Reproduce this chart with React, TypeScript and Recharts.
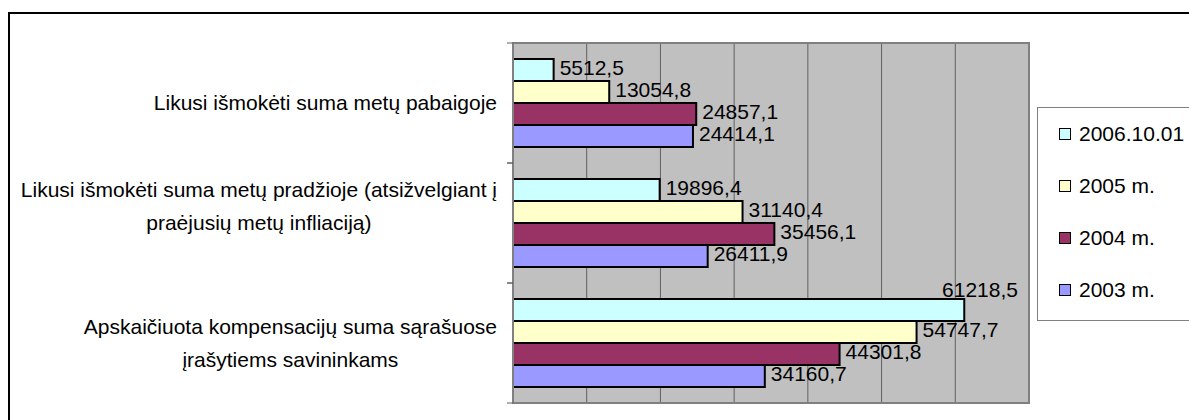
import React from "react"
import { BarChart, Bar, XAxis, YAxis, CartesianGrid, LabelList, ReferenceArea } from "recharts"

// categories, top to bottom
const categories = [
  "Likusi išmokėti suma metų pabaigoje",
  "Likusi išmokėti suma metų pradžioje (atsižvelgiant į praėjusių metų infliaciją)",
  "Apskaičiuota kompensacijų suma sąrašuose įrašytiems savininkams",
]
// how the category labels wrap in the original
const categoryLines = [
  ["Likusi išmokėti suma metų pabaigoje"],
  ["Likusi išmokėti suma metų pradžioje (atsižvelgiant į", "praėjusių metų infliaciją)", ""],
  ["Apskaičiuota kompensacijų suma sąrašuose", "įrašytiems savininkams"],
]

const seriesNames = ["2006.10.01", "2005 m.", "2004 m.", "2003 m."]
const seriesColors = ["#CCFFFF", "#FFFFCC", "#993366", "#9999FF"]
const values2006 = [5512.5, 19896.4, 61218.5]
const values2005 = [13054.8, 31140.4, 54747.7]
const values2004 = [24857.1, 35456.1, 44301.8]
const values2003 = [24414.1, 26411.9, 34160.7]
const xTicks = [0, 10000, 20000, 30000, 40000, 50000, 60000, 70000]

const data = categories.map((name, i) => ({
  name,
  s0: values2006[i],
  s1: values2005[i],
  s2: values2004[i],
  s3: values2003[i],
}))

const CHART_W = 1189
const CHART_H = 420
const MARGIN = { top: 43, right: 160, bottom: 0, left: 0 }
const PLOT_RIGHT = CHART_W - MARGIN.right
const FONT_FAMILY = "'Liberation Sans', Arial, sans-serif"
const FONT_SIZE = 21
const LINE_H = 33
const TICK_MARGIN = 16

let ctx: CanvasRenderingContext2D | null = null
const measure = (text: string) => {
  if (!ctx) ctx = document.createElement("canvas").getContext("2d")
  if (!ctx) return text.length * FONT_SIZE * 0.5
  ctx.font = `${FONT_SIZE}px ${FONT_FAMILY}`
  return ctx.measureText(text).width
}

const fmt = (v: number) => v.toFixed(1).replace(".", ",")

const renderValueLabel = (props: any) => {
  const { x, y, width, height, value } = props
  const text = fmt(Number(value))
  const w = measure(text)
  let tx = Number(x) + Number(width) + 6
  let ty = Number(y) + Number(height) / 2 + 5.5
  // labels that would run out of the plot are pulled back above the bar, like Excel does
  if (tx + w > PLOT_RIGHT - 5) {
    tx = PLOT_RIGHT - 11 - w
    ty = Number(y) - 1.5
  }
  return (
    <text x={tx} y={ty} fontSize={FONT_SIZE} fontFamily={FONT_FAMILY} fill="#000">
      {text}
    </text>
  )
}

// category label, plus Excel-style tick marks between the categories
const CategoryTick = (props: any) => {
  const { x, y, payload } = props
  const idx = categories.indexOf(payload.value)
  const lines = idx >= 0 ? categoryLines[idx] : [String(payload.value)]
  const blockW = Math.max(...lines.map((l) => measure(l)))
  const cx = x - blockW / 2
  const top = y - ((lines.length - 1) * LINE_H) / 2
  const axisX = x + TICK_MARGIN
  const half = Number(payload.offset) || 0
  return (
    <g>
      <line x1={axisX - 6} x2={axisX} y1={y - half} y2={y - half} stroke="#606060" />
      <line x1={axisX - 6} x2={axisX} y1={y + half} y2={y + half} stroke="#606060" />
      {lines.map((l, i) => (
        <text
          key={i}
          x={cx}
          y={top + i * LINE_H + 7}
          textAnchor="middle"
          fontSize={FONT_SIZE}
          fontFamily={FONT_FAMILY}
          fill="#000"
        >
          {l}
        </text>
      ))}
    </g>
  )
}

const NoTick = () => <g />

const Legend = () => (
  <div
    style={{
      position: "absolute",
      left: 1037,
      top: 107,
      width: 200,
      height: 214,
      border: "1px solid #808080",
      background: "#fff",
      boxSizing: "border-box",
    }}
  >
    {seriesNames.map((n, i) => (
      <div
        key={n}
        style={{
          position: "absolute",
          left: 21,
          top: 26 + i * 52 - 13,
          height: 26,
          display: "flex",
          alignItems: "center",
          fontFamily: FONT_FAMILY,
          fontSize: FONT_SIZE,
          color: "#000",
          whiteSpace: "nowrap",
        }}
      >
        <span
          style={{
            display: "inline-block",
            width: 10,
            height: 10,
            border: "1.5px solid #000",
            background: seriesColors[i],
            marginRight: 8,
          }}
        />
        {n}
      </div>
    ))}
  </div>
)

const App = () => {
  return (
    <div style={{ position: "absolute", left: 0, top: 0, width: CHART_W, height: CHART_H, overflow: "hidden", background: "#fff" }}>
      <div style={{ position: "absolute", left: 0, top: 0 }}>
        <BarChart
          width={CHART_W}
          height={CHART_H}
          data={data}
          layout="vertical"
          margin={MARGIN}
          barCategoryGap="13.3%"
          barGap={0}
        >
          <CartesianGrid
            horizontal={false}
            verticalValues={xTicks}
            stroke="#606060"
            fill="#C0C0C0"
            fillOpacity={1}
          />
          <XAxis
            type="number"
            domain={[0, 70000]}
            ticks={xTicks}
            tick={<NoTick />}
            tickLine={false}
            axisLine={{ stroke: "#808080", strokeWidth: 2 }}
            height={17}
          />
          <YAxis
            type="category"
            dataKey="name"
            width={513}
            tickLine={false}
            axisLine={{ stroke: "#808080", strokeWidth: 2 }}
            tickSize={0}
            tickMargin={TICK_MARGIN}
            tick={<CategoryTick />}
            interval={0}
          />
          <ReferenceArea x1={0} x2={70000} fill="none" stroke="#808080" strokeWidth={2} />
          {["s0", "s1", "s2", "s3"].map((k, i) => (
            <Bar
              key={k}
              dataKey={k}
              name={seriesNames[i]}
              fill={seriesColors[i]}
              stroke="#000"
              strokeWidth={2}
              isAnimationActive={false}
            >
              <LabelList dataKey={k} content={renderValueLabel} />
            </Bar>
          ))}
        </BarChart>
      </div>
      <Legend />
      <div
        style={{
          position: "absolute",
          left: 8,
          top: 12,
          width: 1300,
          height: 500,
          border: "2px solid #000",
          pointerEvents: "none",
        }}
      />
    </div>
  )
}

export default App
